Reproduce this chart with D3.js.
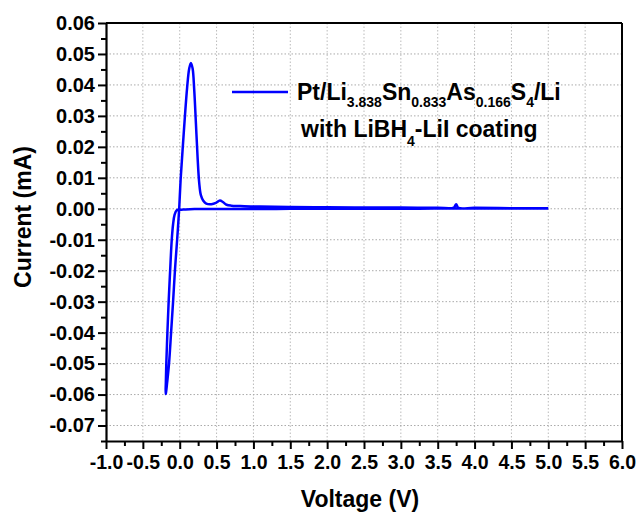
<!DOCTYPE html>
<html>
<head>
<meta charset="utf-8">
<script src="https://cdn.jsdelivr.net/npm/d3@7"></script>
<style>
  body { margin: 0; background: #fff; }
  svg { display: block; font-family: "Liberation Sans", Arial, sans-serif; font-weight: bold; }
</style>
</head>
<body>
<svg width="640" height="515"></svg>
<script>
// cathodic sweep (5.0 V down to -0.19 V)
const downV = [5.0, 4.5, 4.0, 3.5, 3.0, 2.5, 2.0, 1.5, 1.0, 0.5, 0.2, 0.08, 0.02, -0.02, -0.042, -0.07, -0.09, -0.108, -0.13, -0.15, -0.167, -0.182, -0.188, -0.191];
const downI = [0.0001, 0.0001, 0.0001, 0.0001, 0.0000, 0.0000, 0.0000, 0.0000, -0.0001, -0.0001, -0.0001, -0.0002, -0.0003, -0.0003, -0.0005, -0.002, -0.005, -0.010, -0.020, -0.030, -0.040, -0.050, -0.056, -0.0598];

// anodic sweep (-0.19 V back up to 5.0 V)
const upV = [-0.187, -0.17, -0.145, -0.117, -0.09, -0.065, -0.035, -0.007, 0.012, 0.039, 0.07, 0.10, 0.129, 0.152, 0.175, 0.197, 0.22, 0.242, 0.265, 0.287, 0.32, 0.36, 0.43, 0.49, 0.545, 0.59, 0.635, 0.70, 0.82, 1.09, 1.5, 2.0, 2.5, 3.0, 3.5, 3.72, 3.75, 3.78, 4.0, 4.5, 5.0];
const upI = [-0.0595, -0.056, -0.050, -0.040, -0.030, -0.020, -0.010, 0.0001, 0.0093, 0.019, 0.0297, 0.039, 0.0453, 0.0471, 0.0453, 0.0383, 0.0275, 0.0168, 0.0082, 0.0044, 0.0026, 0.0017, 0.0015, 0.0019, 0.0027, 0.0021, 0.0013, 0.0010, 0.0009, 0.0007, 0.0006, 0.0005, 0.0004, 0.0004, 0.0003, 0.0004, 0.0015, 0.0003, 0.0003, 0.0002, 0.0002];

const xTicks = [-1.0, -0.5, 0.0, 0.5, 1.0, 1.5, 2.0, 2.5, 3.0, 3.5, 4.0, 4.5, 5.0, 5.5, 6.0];
const yTicks = [0.06, 0.05, 0.04, 0.03, 0.02, 0.01, 0.00, -0.01, -0.02, -0.03, -0.04, -0.05, -0.06, -0.07];

const margin = {top: 23, right: 18, bottom: 74, left: 106},
      width = 640 - margin.left - margin.right,
      height = 515 - margin.top - margin.bottom;

const x = d3.scaleLinear().domain([-1, 6]).range([0, width]);
const y = d3.scaleLinear().domain([-0.075, 0.06]).range([height, 0]);

const svg = d3.select('svg');
const chart = svg.append('g').attr('transform', `translate(${margin.left},${margin.top})`);

// dotted grid
chart.append('g').selectAll('line').data(xTicks.slice(1, -1)).enter().append('line')
  .attr('x1', d => x(d)).attr('x2', d => x(d)).attr('y1', 0).attr('y2', height)
  .attr('stroke', '#bbb').attr('stroke-width', 1).attr('stroke-dasharray', '1.5,2');
chart.append('g').selectAll('line').data(yTicks.slice(1)).enter().append('line')
  .attr('x1', 0).attr('x2', width).attr('y1', d => y(d)).attr('y2', d => y(d))
  .attr('stroke', '#aaa').attr('stroke-width', 1).attr('stroke-dasharray', '1.5,2');

// minor ticks
const xMinor = d3.range(-0.75, 6, 0.5);
const yMinor = d3.range(-0.075, 0.06, 0.01);
chart.append('g').attr('transform', `translate(0,${height})`)
  .call(d3.axisBottom(x).tickValues(xMinor).tickSize(5).tickFormat(''))
  .call(g => g.select('.domain').remove())
  .selectAll('line').attr('stroke-width', 2);
chart.append('g')
  .call(d3.axisLeft(y).tickValues(yMinor).tickSize(5).tickFormat(''))
  .call(g => g.select('.domain').remove())
  .selectAll('line').attr('stroke-width', 2);

// main axes
const xAxis = chart.append('g').attr('transform', `translate(0,${height})`)
  .call(d3.axisBottom(x).tickValues(xTicks).tickSize(8).tickSizeOuter(0).tickPadding(6)
    .tickFormat(d => d.toFixed(1)));
xAxis.selectAll('text').style('font-size', '19.5px').attr('fill', '#000');

const yAxis = chart.append('g')
  .call(d3.axisLeft(y).tickValues(yTicks).tickSize(8).tickSizeOuter(0).tickPadding(3)
    .tickFormat(d => d.toFixed(2)));
yAxis.selectAll('text').style('font-size', '20px').attr('fill', '#000');

svg.selectAll('.domain').attr('stroke-width', 2.2);
svg.selectAll('.tick line').attr('stroke-width', 2);

// frame top/right
chart.append('line').attr('x1', 0).attr('x2', width).attr('y1', 0).attr('y2', 0)
  .attr('stroke', '#000').attr('stroke-width', 2);
chart.append('line').attr('x1', width).attr('x2', width).attr('y1', 0).attr('y2', height)
  .attr('stroke', '#000').attr('stroke-width', 2);

// curve
const pts = downV.map((v, i) => [v, downI[i]]).concat(upV.map((v, i) => [v, upI[i]]));
const line = d3.line().x(d => x(d[0])).y(d => y(d[1])).curve(d3.curveCatmullRom.alpha(0.5));
chart.append('path').datum(pts)
  .attr('d', line).attr('fill', 'none').attr('stroke', '#0000ff').attr('stroke-width', 2.5)
  .attr('stroke-linejoin', 'round');

// axis titles
svg.append('text').attr('x', 360).attr('y', 507).attr('text-anchor', 'middle')
  .style('font-size', '23px').text('Voltage (V)');
svg.append('text').attr('transform', 'translate(31,217) rotate(-90)').attr('text-anchor', 'middle')
  .style('font-size', '23px').text('Current (mA)');

// legend
svg.append('line').attr('x1', 232).attr('x2', 288).attr('y1', 92).attr('y2', 92)
  .attr('stroke', '#0000ff').attr('stroke-width', 2.5);
const t1 = svg.append('text').attr('x', 297).attr('y', 100).style('font-size', '23px');
const parts1 = [['Pt/Li', 0], ['3.838', 1], ['Sn', 0], ['0.833', 1], ['As', 0], ['0.166', 1], ['S', 0], ['4', 1], ['/Li', 0]];
let prev = 0;
parts1.forEach(([s, sub]) => {
  t1.append('tspan').attr('dy', (sub - prev) * 7).style('font-size', sub ? '14px' : '23px').text(s);
  prev = sub;
});
const t2 = svg.append('text').attr('x', 301).attr('y', 137).style('font-size', '23px');
const parts2 = [['with LiBH', 0], ['4', 1], ['-LiI coating', 0]];
prev = 0;
parts2.forEach(([s, sub]) => {
  t2.append('tspan').attr('dy', (sub - prev) * 9).style('font-size', sub ? '14px' : '23px').text(s);
  prev = sub;
});
</script>
</body>
</html>
